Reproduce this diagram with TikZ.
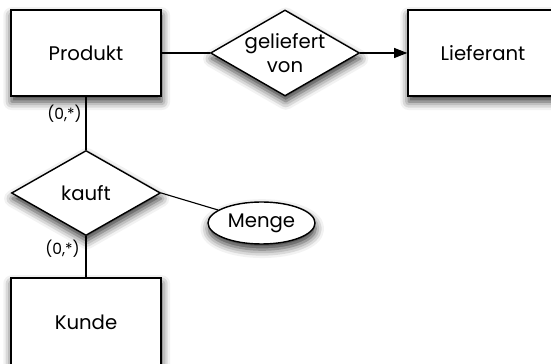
\documentclass[tikz,border=0pt]{standalone}
\usepackage{fontspec}
\setmainfont{Poppins}
\usepackage{tikz}
\usetikzlibrary{shapes.geometric, arrows.meta, shadows.blur}

\begin{document}
\begin{tikzpicture}[
    entity/.style={rectangle, draw=black, fill=white, line width=1pt, minimum width=3.75cm, minimum height=2.15cm, inner sep=0pt, font=\fontsize{14}{17}\selectfont, blur shadow={shadow xshift=0.5pt, shadow yshift=-4pt, shadow blur radius=6pt, shadow opacity=80}},
    relation/.style={diamond, draw=black, fill=white, line width=1pt, minimum width=3.725cm, minimum height=2.15cm, inner sep=0pt, font=\fontsize{14}{17}\selectfont, blur shadow={shadow xshift=0.5pt, shadow yshift=-4pt, shadow blur radius=6pt, shadow opacity=80}},
    attribute/.style={ellipse, draw=black, fill=white, line width=1pt, minimum width=2.675cm, minimum height=1.05cm, inner sep=0pt, font=\fontsize{14}{17}\selectfont, blur shadow={shadow xshift=0.5pt, shadow yshift=-4pt, shadow blur radius=6pt, shadow opacity=80}},
    card/.style={inner sep=0pt, font=\fontsize{11}{13}\selectfont},
    link/.style={line width=0.8pt},
    arrow/.style={-{Triangle[length=0.33cm, width=0.25cm]}, line width=0.8pt}
]
    \clip (0, 0) rectangle (13.775, 9.1);

    % Entities
    \node[entity] (produkt) at (2.15, 7.775) {Produkt};
    \node[entity] (lieferant) at (12.075, 7.775) {Lieferant};
    \node[entity, minimum height=2.2cm] (kunde) at (2.15, 1.05) {Kunde};

    % Relations
    \node[relation, label={[align=center, font=\fontsize{14}{17.5}\selectfont]center:geliefert\\von}] (geliefert) at (7.125, 7.775) {};
    \node[relation, minimum height=2.125cm] (kauft) at (2.15, 4.275) {kauft};

    % Attribute
    \node[attribute] (menge) at (6.5375, 3.525) {Menge};

    % Lines
    \draw[link] (produkt.east) -- (geliefert.west);
    \draw[arrow] (geliefert.east) -- (lieferant.west);
    \draw[link] (produkt.south) -- (kauft.north);
    \draw[link] (kauft.south) -- (kunde.north);
    \draw[link] (kauft.east) -- (menge);

    % Cardinalities
    \node[card, anchor=north east] (cardprodukt) at ([xshift=-1mm, yshift=-2mm]produkt.south) {(0,*)};
    \node[card, anchor=north east] (cardkunde) at ([xshift=-1.5mm, yshift=-1mm]kauft.south) {(0,*)};
\end{tikzpicture}
\end{document}
